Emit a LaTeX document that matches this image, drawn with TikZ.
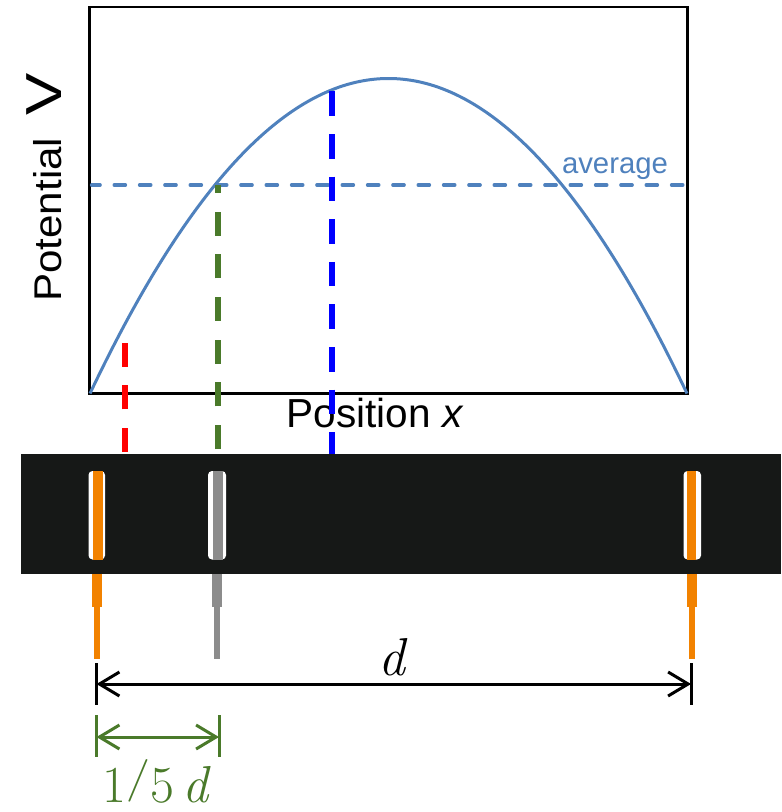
\documentclass[tikz,border=0pt]{standalone}
\usepackage{fontspec}
\usepackage{graphicx}
\setmainfont{Liberation Sans}
\usetikzlibrary{arrows.meta}
\definecolor{curveblue}{HTML}{4F81BD}
\definecolor{vgreen}{HTML}{4A7A2A}
\definecolor{eorange}{HTML}{F28200}
\definecolor{egray}{HTML}{8C8C8C}
\definecolor{barblack}{HTML}{161817}
\newcommand{\lmrtext}{\fontfamily{lmr}\selectfont}
\newcommand{\shortslash}{\raisebox{0.2em}{\scalebox{1}[0.82]{/}}}
\tikzset{
  vdash/.style={line width=4.5pt, dash pattern=on 18pt off 14pt},
  dimline/.style={line width=2.25pt},
  barb/.style={{Straight Barb[length=15pt,width=18pt]}-{Straight Barb[length=15pt,width=18pt]}},
}
\begin{document}
\begin{tikzpicture}[x=0.75pt,y=-0.75pt]
\useasboundingbox (0,0) rectangle (781,812);
% plot frame
\draw[line width=1.6pt] (89.5,7) rectangle (687.5,393.5);
% average line
\draw[curveblue, line width=2.5pt, line cap=round, dash pattern=on 8.5pt off 10.5pt, dash phase=2pt] (91.5,185) -- (686,185);
\node[text=curveblue, font=\fontsize{22}{22}\selectfont, anchor=base] (avg) at (615,174) {average};
% curve
\draw[curveblue, line width=2.25pt] plot[domain=90:687, samples=150, smooth] (\x,{393.5-315*(1-((\x-388.5)/298.5)^2)});
% axis labels
\node[font=\fontsize{30.4}{30.4}\selectfont, anchor=base] (xlab) at (375,427) {Position \textit{x}};
\node[rotate=90, xscale=1.09, anchor=base west, inner sep=0pt, font=\fontsize{29}{29}\selectfont] (ylab) at (61.5,302) {Potential};
\node[rotate=90, xscale=1.25, anchor=base west, inner sep=0pt, font=\fontsize{38}{38}\selectfont] (yvar) at (61.5,116) {V};
% bar
\fill[barblack] (21,454) rectangle (781,574);
% electrodes
\fill[white, rounded corners=3pt] (88.5,471) rectangle (105,559.5);
\fill[eorange] (92.5,471) rectangle (102.5,559.5);
\fill[white, rounded corners=3pt] (208,471) rectangle (226,559.5);
\fill[egray] (212.5,471) rectangle (222.5,559.5);
\fill[white, rounded corners=3pt] (683.5,471) rectangle (701,559.5);
\fill[eorange] (686.7,471) rectangle (696.2,559.5);
% leads
\fill[eorange] (92.3,574) rectangle (102.3,607);
\fill[eorange] (94.3,607) rectangle (100,659);
\fill[egray] (211.7,574) rectangle (222.3,607);
\fill[egray] (214,607) rectangle (219.7,659);
\fill[eorange] (686.7,574) rectangle (697,607);
\fill[eorange] (689,607) rectangle (695,659);
% dashed verticals
\draw[red, vdash] (125,452) -- (125,342);
\draw[vgreen, vdash, dash pattern=on 18pt off 14pt] (218,449) -- (218,185);
\draw[blue, vdash, dash pattern=on 18.45pt off 13.5pt] (332,91.5) -- (332,454);
% dimension d
\coordinate (dT1) at (96.5,663); \coordinate (dB1) at (96.5,705);
\coordinate (dT2) at (691,663); \coordinate (dB2) at (691,705);
\coordinate (dA) at (96.5,684); \coordinate (dB) at (691,684);
\draw[dimline] (dT1) -- (dB1);
\draw[dimline] (dT2) -- (dB2);
\draw[dimline, barb] (dA) -- (dB);
\node[font=\fontsize{40}{40}\lmrtext, anchor=base] (dlab) at (392,675) {\itshape d};
% dimension 1/5 d
\coordinate (gT1) at (96.5,715); \coordinate (gB1) at (96.5,757);
\coordinate (gT2) at (219,715); \coordinate (gB2) at (219,757);
\coordinate (gA) at (96.5,737); \coordinate (gB) at (219,737);
\draw[vgreen, dimline] (gT1) -- (gB1);
\draw[vgreen, dimline] (gT2) -- (gB2);
\draw[vgreen, dimline, barb] (gA) -- (gB);
\node[text=vgreen, font=\fontsize{39}{39}\lmrtext, anchor=base, inner sep=0pt] (glab) at (157,802) {1\shortslash5\,\textit{d}};
\end{tikzpicture}
\end{document}
